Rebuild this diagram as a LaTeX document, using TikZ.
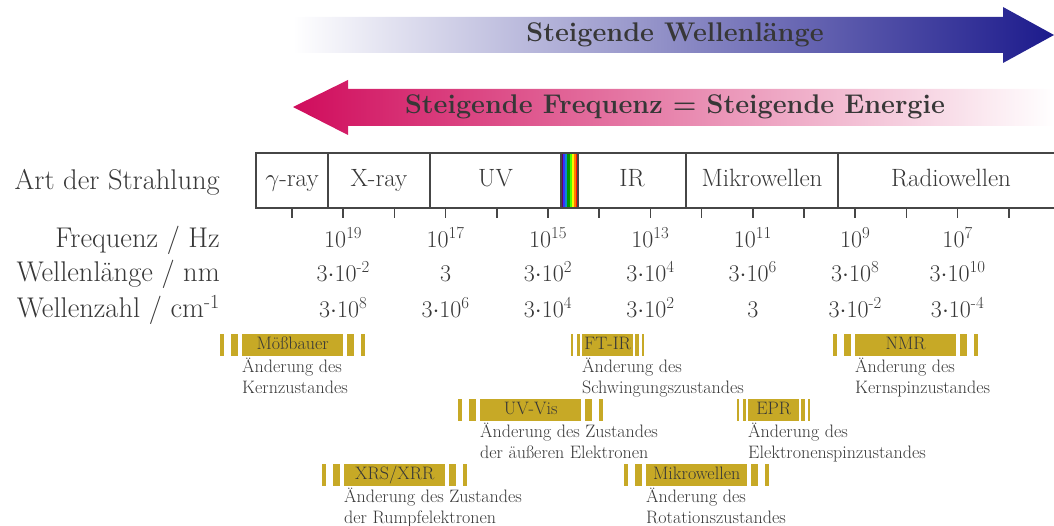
\documentclass[tikz,border=0pt]{standalone}
\usetikzlibrary{positioning}
\definecolor{gold}{RGB}{199,169,38}
\definecolor{schrift}{RGB}{55,55,55}
\definecolor{linie}{RGB}{70,70,70}
\definecolor{blau}{RGB}{28,26,140}
\definecolor{rosa}{RGB}{208,12,92}
\tikzstyle{zelle} = [rectangle, draw=linie, line width=1.5pt, minimum height=55pt, inner sep=0pt, text height=17pt, text depth=5pt, text=schrift, font=\fontsize{25}{29}\selectfont]
\tikzstyle{zeile} = [anchor=base east, inner sep=0pt, text=schrift, font=\fontsize{28.5}{32}\selectfont]
\tikzstyle{wert} = [anchor=base, inner sep=0pt, text=schrift, font=\fontsize{24}{28}\selectfont]
\tikzstyle{methode} = [rectangle, fill=gold, anchor=west, minimum width=101pt, minimum height=22pt, inner sep=0pt, text height=12pt, text depth=4pt, text=schrift, font=\fontsize{18}{21}\selectfont]
\tikzstyle{methode_klein} = [methode, minimum width=51pt]
\tikzstyle{text_unten} = [anchor=north west, align=left, inner sep=0pt, text=schrift, font=\fontsize{18}{20.5}\selectfont]
\tikzstyle{pfeiltext} = [text=schrift, font=\fontsize{27}{32}\selectfont\bfseries]
\tikzstyle{strich} = [draw=linie, line width=1.5pt]
\newcommand{\hoch}[1]{\textsuperscript{#1}}
\newcommand{\streifen}[2]{%
  \fill[gold] ([xshift=-22*#2]#1.south west) rectangle ([xshift=-18*#2]#1.north west);
  \fill[gold] ([xshift=-11*#2]#1.south west) rectangle ([xshift=-4*#2]#1.north west);
  \fill[gold] ([xshift=4*#2]#1.south east) rectangle ([xshift=11*#2]#1.north east);
  \fill[gold] ([xshift=18*#2]#1.south east) rectangle ([xshift=22*#2]#1.north east);
}
\begin{document}
\begin{tikzpicture}[x=1pt, y=-1pt]
            \useasboundingbox (0,0) rectangle (1054,526);
            % Pfeile oben
            \shade[left color=white, right color=blau] (293,17) -- (1003,17) -- (1003,7) -- (1054,35) -- (1003,63) -- (1003,53) -- (293,53) -- cycle;
            \shade[left color=rosa, right color=white] (293,107) -- (348,80) -- (348,89) -- (1054,89) -- (1054,126) -- (348,126) -- (348,135) -- cycle;
            \node (wellenlaenge) [pfeiltext] at (675,35) {Steigende Wellenlänge};
            \node (energie) [pfeiltext] at (675,107) {Steigende Frequenz = Steigende Energie};
            
            % Spektrum
            \foreach \farbe [count=\i from 0] in {violet!80!black, blue!80, cyan!70!blue, green!60!black, green!70!yellow, yellow, orange, red!80!orange}
                \fill[\farbe] (561+\i*2.125,153) rectangle ++(2.125,55);
            \node (gamma) [zelle, minimum width=72pt] at (292,180.5) {$\gamma$-ray};
            \node (xray) [zelle, minimum width=102pt] at (379,180.5) {X-ray};
            \node (uv) [zelle, minimum width=131pt] at (495.5,180.5) {UV};
            \node (vis) [zelle, minimum width=17pt] at (569.5,180.5) {};
            \node (ir) [zelle, minimum width=108pt] at (632,180.5) {IR};
            \node (mikro) [zelle, minimum width=152pt] at (762,180.5) {Mikrowellen};
            \node (radio) [zelle, minimum width=226pt] at (951,180.5) {Radiowellen};
            \foreach \i in {0,...,14}
                \draw[strich] (292+51.2*\i,208) -- ++(0,10);
            
            % Zeilen
            \node (art) [zeile] at (220,190) {Art der Strahlung};
            \node (frequenz) [zeile] at (220,248) {Frequenz / Hz};
            \node (laenge) [zeile] at (220,282) {Wellenlänge / nm};
            \node (zahl) [zeile] at (220,318) {Wellenzahl / cm\hoch{-1}};
            \foreach \f/\l/\k [count=\i] in {
                10\hoch{19}/3$\cdot$10\hoch{-2}/3$\cdot$10\hoch{8},
                10\hoch{17}/3/3$\cdot$10\hoch{6},
                10\hoch{15}/3$\cdot$10\hoch{2}/3$\cdot$10\hoch{4},
                10\hoch{13}/3$\cdot$10\hoch{4}/3$\cdot$10\hoch{2},
                10\hoch{11}/3$\cdot$10\hoch{6}/3,
                10\hoch{9}/3$\cdot$10\hoch{8}/3$\cdot$10\hoch{-2},
                10\hoch{7}/3$\cdot$10\hoch{10}/3$\cdot$10\hoch{-4}}
            {
                \node (f\i) [wert] at (240.8+102.4*\i,248) {\f};
                \node (l\i) [wert] at (240.8+102.4*\i,282) {\l};
                \node (k\i) [wert] at (240.8+102.4*\i,318) {\k};
            }
            
            % Methoden
            \node (moss) [methode] at (242,345) {Mößbauer};
            \node (ftir) [methode_klein] at (582,345) {FT-IR};
            \node (nmr) [methode] at (855,345) {NMR};
            \node (uvvis) [methode] at (480,410) {UV-Vis};
            \node (epr) [methode_klein] at (748,410) {EPR};
            \node (xrs) [methode] at (344,475) {XRS/XRR};
            \node (mw) [methode] at (646,475) {Mikrowellen};
            \streifen{moss}{1}
            \streifen{ftir}{0.5}
            \streifen{nmr}{1}
            \streifen{uvvis}{1}
            \streifen{epr}{0.5}
            \streifen{xrs}{1}
            \streifen{mw}{1}
            
            % Beschreibungen
            \node (moss_text) [text_unten] at ([yshift=-2pt]moss.south west) {Änderung des\\Kernzustandes};
            \node (ftir_text) [text_unten] at ([yshift=-2pt]ftir.south west) {Änderung des\\Schwingungszustandes};
            \node (nmr_text) [text_unten] at ([yshift=-2pt]nmr.south west) {Änderung des\\Kernspinzustandes};
            \node (uvvis_text) [text_unten] at ([yshift=-2pt]uvvis.south west) {Änderung des Zustandes\\der äußeren Elektronen};
            \node (epr_text) [text_unten] at ([yshift=-2pt]epr.south west) {Änderung des\\Elektronenspinzustandes};
            \node (xrs_text) [text_unten] at ([yshift=-2pt]xrs.south west) {Änderung des Zustandes\\der Rumpfelektronen};
            \node (mw_text) [text_unten] at ([yshift=-2pt]mw.south west) {Änderung des\\Rotationszustandes};
\end{tikzpicture}
\end{document}
